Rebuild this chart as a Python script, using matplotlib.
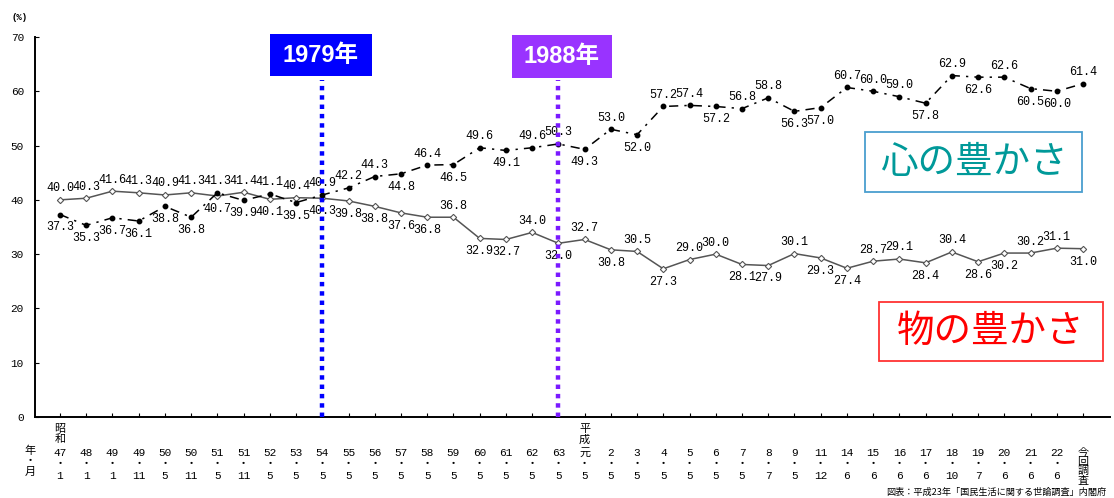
import matplotlib
matplotlib.use("Agg")
import matplotlib.pyplot as plt
from matplotlib.patches import Rectangle
from matplotlib.transforms import blended_transform_factory
import numpy as np

# survey rounds (year / month) and the two answer shares in %
years = ["47", "48", "49", "49", "50", "50", "51", "51", "52", "53",
         "54", "55", "56", "57", "58", "59", "60", "61", "62", "63",
         "元", "2", "3", "4", "5", "6", "7", "8", "9", "11",
         "14", "15", "16", "17", "18", "19", "20", "21", "22"]
months = ["1", "1", "1", "11", "5", "11", "5", "11", "5", "5",
          "5", "5", "5", "5", "5", "5", "5", "5", "5", "5",
          "5", "5", "5", "5", "5", "5", "5", "7", "5", "12",
          "6", "6", "6", "6", "10", "7", "6", "6", "6"]
last_label = "今\n回\n調\n査"

kokoro = [37.3, 35.3, 36.7, 36.1, 38.8, 36.8, 41.3, 39.9, 41.1, 39.5,
          40.9, 42.2, 44.3, 44.8, 46.4, 46.5, 49.6, 49.1, 49.6, 50.3,
          49.3, 53.0, 52.0, 57.2, 57.4, 57.2, 56.8, 58.8, 56.3, 57.0,
          60.7, 60.0, 59.0, 57.8, 62.9, 62.6, 62.6, 60.5, 60.0, 61.4]
mono = [40.0, 40.3, 41.6, 41.3, 40.9, 41.3, 40.7, 41.4, 40.1, 40.4,
        40.3, 39.8, 38.8, 37.6, 36.8, 36.8, 32.9, 32.7, 34.0, 32.0,
        32.7, 30.8, 30.5, 27.3, 29.0, 30.0, 28.1, 27.9, 30.1, 29.3,
        27.4, 28.7, 29.1, 28.4, 30.4, 28.6, 30.2, 30.2, 31.1, 31.0]

# where each value label sits: 'a' above the point, 'b' below
kokoro_pos = "bbbbbbabab" "aaabababaa" "babaabaabb" "aaabababba"
mono_pos = "aaaaaababa" "bbbbbabbab" "ababaabbab" "baababbaab"

W, H = 1114, 498
def fx(px):
    return px / W
def fy(py):
    return 1 - py / H

num_font = ["Liberation Mono", "Noto Sans CJK JP"]
jp_font = ["Noto Sans CJK JP", "DejaVu Sans"]

fig = plt.figure(figsize=(W / 100, H / 100), dpi=100)
ax = fig.add_axes([fx(35), fy(417), fx(1110) - fx(35), (417 - 37) / H])

x = np.arange(len(kokoro))

ax.plot(x, mono, color="#555555", lw=1.1, marker="D", ms=3.2,
        mfc="white", mec="#555555", mew=0.8, zorder=3)
ax.plot(x, kokoro, color="black", lw=1.1, linestyle=(0, (6, 4, 1.5, 4)),
        marker="o", ms=3.2, mfc="black", mec="black", zorder=3)

for series, where in [(mono, mono_pos), (kokoro, kokoro_pos)]:
    for xi, v, p in zip(x, series, where):
        dy = 4 if p == "a" else -5
        ax.annotate(f"{v:.1f}", (xi, v), xytext=(0, dy), textcoords="offset points",
                    ha="center", va="bottom" if p == "a" else "top",
                    fontsize=8.5, family=num_font, zorder=4)

ax.set_xlim(-0.953, 40.03)
ax.set_ylim(0, 70)
ax.set_yticks(range(0, 71, 10))
ax.set_yticklabels([str(t) for t in range(0, 71, 10)], family=num_font, fontsize=8)
ticklabels = [f"{y}\n・\n{m}" for y, m in zip(years, months)] + [last_label]
ax.set_xticks(x)
ax.set_xticklabels(ticklabels, family=num_font, fontsize=8, linespacing=1.2)
ax.get_xticklabels()[-1].set_linespacing(0.92)
ax.tick_params(axis="x", direction="in", length=3, pad=22)
ax.tick_params(axis="y", direction="in", length=3, pad=8)
for s in ["top", "right"]:
    ax.spines[s].set_visible(False)
for s in ["left", "bottom"]:
    ax.spines[s].set_linewidth(1.4)

# era names stacked above the first Showa and Heisei ticks
tr = blended_transform_factory(ax.transData, ax.transAxes)
ax.text(0, -0.018, "昭\n和", transform=tr, ha="center", va="top",
        family=jp_font, fontsize=8, linespacing=1.05)
ax.text(20, -0.018, "平\n成", transform=tr, ha="center", va="top",
        family=jp_font, fontsize=8, linespacing=1.05)
fig.text(fx(30), fy(446), "年\n・\n月", ha="center", va="top",
         family=jp_font, fontsize=8, linespacing=1.0)
fig.text(fx(20), fy(18), "(%)", ha="center", va="center",
         family=num_font, fontsize=6.5, weight="bold")

# marker lines for 1979 and 1988
ax.axvline(10, ymin=0, ymax=0.887, color="#0000FF", lw=3.2,
           linestyle=(0, (1, 1.1)), dash_capstyle="butt", zorder=5)
ax.axvline(19, ymin=0, ymax=0.887, color="#7A1AFF", lw=3.2,
           linestyle=(0, (1, 1.1)), dash_capstyle="butt", zorder=5)

def tag(x0, y0, x1, y1, face, edge, text, color, size, weight="normal",
        family=jp_font, lw=0):
    fig.add_artist(Rectangle((fx(x0), fy(y1)), fx(x1) - fx(x0), (y1 - y0) / H,
                             transform=fig.transFigure, facecolor=face,
                             edgecolor=edge, lw=lw, zorder=6))
    fig.text(fx((x0 + x1) / 2), fy((y0 + y1) / 2), text, ha="center",
             va="center", color=color, fontsize=size, weight=weight,
             family=family, zorder=7)

bold_sans = ["Liberation Sans", "Noto Sans CJK JP"]
tag(270, 34, 372, 76, "#0000FF", "#0000FF", "1979年", "white", 17,
    weight="bold", family=bold_sans)
tag(512, 35, 612, 78, "#9933FF", "#9933FF", "1988年", "white", 17,
    weight="bold", family=bold_sans)
tag(865, 132, 1082, 192, "white", "#4A9ECF", "心の豊かさ", "#009999", 27, lw=1.3)
tag(879, 302, 1103, 361, "white", "#FF3333", "物の豊かさ", "#FF0000", 27, lw=1.3)

fig.text(fx(886), fy(492.5), "図表：平成23年「国民生活に関する世論調査」内閣府",
         ha="left", va="center", family=jp_font, fontsize=6.6, zorder=8)

fig.savefig("out.png", dpi=100)
